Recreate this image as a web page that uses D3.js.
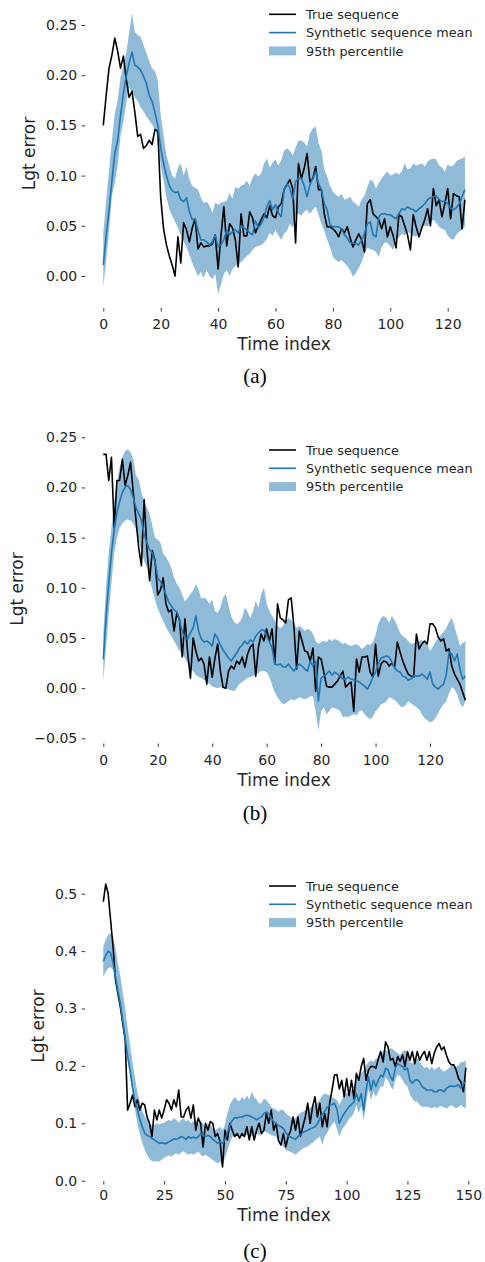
<!DOCTYPE html>
<html>
<head>
<meta charset="utf-8">
<script src="https://cdn.jsdelivr.net/npm/d3@7"></script>
<style>
  body { margin: 0; background: #fff; }
  svg { display: block; }
  text { font-family: "DejaVu Sans", sans-serif; }
  text.caption { font-family: "Liberation Serif", "Times New Roman", serif; }
</style>
</head>
<body>
<svg id="fig" width="485" height="1262"></svg>
<script>
// ---- data ----
var legendLabels = ['True sequence', 'Synthetic sequence mean', '95th percentile'];
var captions = ['(a)', '(b)', '(c)'];
var xTitle = 'Time index';
var yTitle = 'Lgt error';

// panel (a)
var aXTicks = [0, 20, 40, 60, 80, 100, 120];
var aYTicks = [0, 0.05, 0.10, 0.15, 0.20, 0.25];
var aTrue = [
  .150,.180,.207,.220,.237,.224,.207,.219,.196,.178,
  .184,.163,.139,.141,.127,.130,.135,.131,.146,.144,
  .078,.047,.031,.020,.011,.000,.039,.013,.053,.046,
  .034,.048,.057,.027,.033,.029,.030,.030,.032,.041,
  .007,.040,.069,.030,.052,.048,.036,.009,.062,.040,
  .040,.064,.058,.043,.050,.056,.062,.058,.070,.060,
  .058,.069,.072,.086,.091,.096,.087,.033,.112,.097,
  .107,.122,.094,.097,.109,.086,.086,.062,.049,.049,
  .047,.044,.039,.047,.043,.049,.038,.029,.036,.042,
  .036,.024,.072,.076,.062,.059,.056,.047,.057,.039,
  .049,.040,.028,.061,.059,.050,.041,.026,.061,.049,
  .039,.048,.056,.067,.050,.087,.070,.076,.059,.072,
  .087,.057,.082,.080,.079,.047,.076];
var aMean = [
  .011,.040,.065,.095,.122,.135,.160,.182,.199,.212,
  .223,.210,.208,.205,.199,.192,.180,.174,.163,.150,
  .128,.112,.100,.090,.085,.083,.084,.076,.074,.078,
  .064,.056,.057,.045,.036,.036,.034,.031,.034,.041,
  .029,.031,.036,.046,.041,.044,.046,.043,.050,.048,
  .046,.043,.041,.055,.048,.052,.058,.069,.075,.066,
  .071,.063,.059,.086,.092,.088,.076,.094,.097,.097,
  .090,.079,.091,.097,.104,.092,.086,.072,.066,.051,
  .049,.049,.049,.047,.041,.038,.033,.033,.032,.031,
  .036,.042,.052,.054,.041,.039,.059,.062,.062,.061,
  .061,.059,.057,.062,.067,.066,.069,.067,.066,.064,
  .067,.069,.072,.076,.078,.079,.080,.076,.074,.075,
  .072,.068,.066,.068,.072,.079,.086];
var aHigh = [
  .043,.075,.105,.135,.162,.175,.198,.210,.222,.242,
  .262,.243,.240,.238,.230,.222,.214,.207,.204,.195,
  .160,.140,.120,.110,.100,.097,.108,.112,.100,.109,
  .096,.090,.088,.086,.078,.073,.074,.070,.063,.073,
  .071,.073,.074,.075,.083,.077,.089,.087,.090,.091,
  .095,.090,.098,.102,.099,.102,.112,.117,.108,.113,
  .116,.110,.115,.125,.127,.125,.120,.128,.135,.135,
  .133,.129,.142,.147,.149,.132,.125,.106,.099,.090,
  .084,.081,.079,.082,.076,.077,.079,.074,.072,.069,
  .076,.080,.089,.096,.094,.087,.093,.097,.101,.104,
  .100,.101,.103,.101,.104,.112,.106,.107,.112,.110,
  .111,.112,.109,.114,.116,.117,.116,.110,.108,.104,
  .111,.109,.110,.114,.116,.117,.119];
var aLow = [
  -.011,.015,.045,.080,.093,.110,.140,.154,.172,.188,
  .183,.178,.174,.168,.164,.159,.155,.151,.146,.138,
  .110,.095,.078,.067,.060,.054,.048,.040,.034,.029,
  .021,.013,.006,.000,.004,-.002,.006,.000,-.003,.002,
  -.018,-.008,.002,.006,.000,.007,.010,.012,.014,.017,
  .020,.022,.026,.029,.030,.031,.033,.037,.043,.040,
  .046,.040,.036,.042,.045,.052,.048,.059,.062,.060,
  .064,.066,.062,.066,.069,.061,.052,.045,.036,.029,
  .019,.016,.014,.016,.013,.010,.006,-.001,.003,.008,
  .014,.022,.028,.027,.026,.024,.019,.029,.033,.033,
  .030,.026,.036,.038,.042,.040,.044,.042,.040,.039,
  .043,.049,.050,.049,.053,.056,.053,.049,.047,.046,
  .040,.037,.036,.041,.044,.046,.049];

// panel (b)
var bXTicks = [0, 20, 40, 60, 80, 100, 120];
var bYTicks = [-0.05, 0, 0.05, 0.10, 0.15, 0.20, 0.25];
var bTrue = [
  .233,.233,.207,.230,.160,.207,.207,.228,.202,.212,
  .225,.195,.168,.140,.122,.188,.140,.107,.137,.127,
  .093,.098,.110,.084,.076,.078,.057,.075,.068,.031,
  .069,.035,.010,.050,.037,.027,.030,.024,.004,.031,
  .011,.030,.044,.017,.001,.000,.017,.022,.019,.027,
  .024,.031,.021,.034,.041,.044,.012,.041,.054,.047,
  .059,.047,.059,.024,.084,.070,.068,.065,.088,.090,
  .062,.019,.057,.047,.037,.036,.027,.040,-.003,.031,
  .029,.016,.002,.001,.001,.004,.007,.012,.017,.001,
  .004,.006,-.023,.029,.016,.031,.031,.032,.016,.011,
  .044,.012,.024,.027,.026,.022,.025,.021,.046,.036,
  .027,.020,.014,.012,.011,.054,.039,.044,.047,.044,
  .064,.064,.060,.051,.047,.049,.037,.039,.022,.014,
  .009,.004,-.004,-.012];
var bMean = [
  .029,.070,.105,.135,.158,.175,.186,.195,.200,.202,
  .198,.190,.180,.174,.167,.153,.145,.138,.135,.126,
  .110,.106,.100,.093,.086,.082,.078,.076,.068,.056,
  .050,.049,.055,.060,.072,.057,.049,.046,.047,.045,
  .042,.054,.050,.043,.038,.034,.030,.027,.031,.035,
  .040,.043,.047,.044,.048,.046,.052,.055,.058,.058,
  .052,.046,.040,.024,.023,.024,.021,.021,.024,.020,
  .017,.021,.024,.022,.019,.017,.027,.022,.027,-.013,
  .010,.012,.014,.017,.013,.016,.014,.012,.009,.009,
  .011,.009,.008,.007,.006,.004,.002,-.001,.004,.011,
  .016,.024,.030,.031,.032,.031,.026,.020,.017,.016,
  .012,.011,.008,.009,.012,.012,.012,.014,.012,.009,
  .016,.004,.001,-.001,.002,.004,.014,.036,.034,.027,
  .034,.019,.009,.012];
var bHigh = [
  .054,.100,.135,.160,.185,.205,.220,.230,.236,.238,
  .235,.228,.212,.208,.195,.186,.180,.174,.162,.150,
  .148,.145,.134,.131,.126,.120,.110,.104,.100,.093,
  .086,.090,.094,.097,.104,.098,.089,.090,.088,.084,
  .088,.077,.075,.080,.090,.094,.082,.072,.066,.064,
  .066,.070,.080,.076,.070,.077,.087,.080,.094,.100,
  .084,.077,.072,.068,.062,.060,.062,.067,.070,.068,
  .064,.060,.062,.060,.057,.059,.058,.054,.047,.044,
  .046,.047,.046,.049,.047,.049,.048,.046,.044,.045,
  .043,.042,.043,.044,.042,.039,.041,.044,.043,.046,
  .053,.064,.070,.072,.070,.065,.072,.068,.062,.055,
  .052,.050,.047,.044,.045,.046,.047,.048,.046,.044,
  .037,.041,.046,.050,.053,.056,.060,.066,.070,.061,
  .052,.042,.045,.047];
var bLow = [
  .007,.040,.075,.105,.135,.150,.160,.164,.167,.168,
  .167,.164,.158,.148,.136,.127,.120,.110,.098,.088,
  .079,.073,.067,.061,.056,.052,.047,.042,.037,.034,
  .030,.024,.020,.017,.013,.011,.010,.008,.007,.004,
  .002,.001,.000,.001,.000,.000,-.001,-.002,-.003,.000,
  .004,.006,.008,.010,.011,.012,.014,.015,.017,.017,
  .016,.011,.003,-.004,-.009,-.013,-.016,-.015,-.013,-.011,
  -.012,-.011,-.009,-.010,-.011,-.010,-.008,-.008,-.023,-.042,
  -.023,-.019,-.026,-.023,-.019,-.020,-.021,-.023,-.029,-.028,
  -.029,-.027,-.026,-.027,-.023,-.022,-.026,-.029,-.031,-.029,
  -.023,-.020,-.016,-.015,-.013,-.009,-.010,-.012,-.014,-.018,
  -.019,-.017,-.013,-.015,-.017,-.019,-.021,-.026,-.030,-.032,
  -.034,-.033,-.030,-.025,-.020,-.016,-.013,-.005,.001,-.001,
  -.006,-.015,-.019,-.013];

// panel (c)
var cXTicks = [0, 25, 50, 75, 100, 125, 150];
var cYTicks = [0, 0.1, 0.2, 0.3, 0.4, 0.5];
var cTrue = [
  .486,.517,.500,.454,.408,.350,.326,.303,.274,.245,
  .123,.135,.149,.129,.141,.123,.135,.132,.111,.100,
  .077,.123,.106,.123,.109,.123,.141,.135,.123,.141,
  .129,.158,.111,.111,.123,.129,.109,.132,.088,.109,
  .100,.059,.100,.088,.103,.100,.077,.082,.068,.024,
  .088,.071,.100,.088,.077,.082,.074,.082,.077,.094,
  .071,.094,.071,.088,.100,.082,.088,.117,.100,.123,
  .088,.100,.070,.062,.082,.059,.077,.088,.111,.088,
  .111,.077,.094,.111,.135,.100,.129,.146,.111,.135,
  .094,.117,.094,.135,.158,.184,.185,.160,.175,.146,
  .178,.148,.175,.143,.187,.175,.199,.213,.175,.193,
  .199,.199,.196,.212,.225,.207,.242,.233,.210,.213,
  .199,.216,.208,.219,.199,.225,.210,.225,.204,.225,
  .210,.219,.225,.210,.225,.204,.222,.233,.239,.228,
  .233,.219,.207,.202,.202,.193,.178,.172,.155,.197];
var cMean = [
  .382,.392,.400,.397,.380,.355,.331,.308,.278,.248,
  .217,.192,.163,.139,.124,.107,.094,.083,.079,.077,
  .074,.071,.068,.065,.066,.065,.065,.068,.070,.073,
  .072,.074,.077,.075,.072,.077,.074,.076,.074,.076,
  .082,.079,.077,.079,.077,.072,.069,.065,.068,.065,
  .072,.084,.096,.105,.110,.109,.111,.111,.113,.114,
  .113,.111,.109,.106,.109,.111,.117,.120,.117,.109,
  .103,.100,.096,.094,.091,.084,.078,.076,.074,.072,
  .077,.080,.084,.086,.088,.090,.092,.094,.099,.108,
  .116,.121,.128,.131,.133,.135,.125,.100,.110,.117,
  .123,.129,.133,.137,.152,.138,.152,.123,.158,.181,
  .158,.175,.164,.175,.184,.181,.196,.193,.181,.175,
  .196,.204,.201,.199,.193,.196,.175,.170,.175,.176,
  .172,.164,.161,.158,.158,.158,.155,.155,.158,.158,
  .155,.161,.164,.165,.164,.165,.167,.161,.168,.174];
var cHigh = [
  .408,.420,.428,.431,.425,.406,.378,.356,.328,.300,
  .266,.236,.207,.180,.155,.137,.122,.112,.106,.100,
  .096,.097,.100,.098,.100,.101,.104,.106,.104,.109,
  .106,.101,.106,.109,.103,.106,.100,.103,.106,.100,
  .103,.100,.094,.100,.097,.091,.088,.091,.094,.088,
  .098,.118,.132,.140,.146,.141,.138,.146,.141,.149,
  .141,.155,.146,.141,.135,.135,.143,.140,.135,.129,
  .126,.123,.120,.124,.123,.117,.114,.111,.106,.109,
  .115,.118,.120,.123,.125,.127,.129,.132,.136,.141,
  .149,.152,.150,.149,.146,.143,.141,.132,.141,.149,
  .153,.155,.158,.167,.175,.181,.187,.193,.201,.207,
  .210,.207,.213,.213,.220,.225,.228,.226,.231,.229,
  .225,.222,.219,.225,.228,.222,.207,.204,.210,.213,
  .207,.201,.196,.199,.193,.199,.193,.196,.199,.193,
  .190,.193,.196,.201,.204,.199,.201,.207,.207,.210];
var cLow = [
  .355,.364,.370,.372,.368,.346,.325,.298,.268,.240,
  .210,.182,.152,.124,.100,.082,.066,.054,.045,.038,
  .034,.034,.034,.033,.037,.040,.042,.044,.042,.045,
  .048,.045,.049,.051,.048,.045,.048,.045,.048,.051,
  .045,.042,.045,.042,.039,.036,.033,.030,.033,.027,
  .040,.053,.066,.076,.080,.077,.074,.080,.082,.079,
  .082,.077,.080,.082,.080,.082,.086,.085,.082,.080,
  .078,.077,.069,.065,.059,.053,.052,.050,.048,.045,
  .049,.053,.056,.058,.060,.063,.066,.070,.074,.077,
  .062,.077,.083,.092,.098,.103,.090,.077,.088,.095,
  .100,.108,.112,.118,.132,.118,.130,.104,.135,.160,
  .140,.155,.146,.155,.165,.163,.180,.175,.165,.158,
  .176,.185,.182,.175,.168,.164,.150,.143,.138,.138,
  .132,.129,.129,.129,.128,.126,.129,.126,.129,.130,
  .128,.126,.129,.132,.129,.126,.129,.132,.129,.126];

// ---- layout ----
var blue = '#1f77b4';
var ink = '#262626';
var svg = d3.select('#fig');

var panels = [
  { truth: aTrue, mean: aMean, low: aLow, high: aHigh, xTicks: aXTicks, yTicks: aYTicks, yFmt: '.2f', caption: captions[0],
    xDom: [0, 120], xRng: [103.3, 447.7], yDom: [0, 0.25], yRng: [276, 25],
    left: 85.2, bottom: 308, xLabY: 328.5, titleY: 349.5, yLabX: 35, yLabY: 153.5, capY: 383, legY: 14.3 },
  { truth: bTrue, mean: bMean, low: bLow, high: bHigh, xTicks: bXTicks, yTicks: bYTicks, yFmt: '.2f', caption: captions[1],
    xDom: [0, 120], xRng: [103.3, 430], yDom: [-0.05, 0.25], yRng: [738.3, 437.3],
    left: 85.2, bottom: 743.5, xLabY: 765, titleY: 786, yLabX: 22.5, yLabY: 589, capY: 820, legY: 450 },
  { truth: cTrue, mean: cMean, low: cLow, high: cHigh, xTicks: cXTicks, yTicks: cYTicks, yFmt: '.1f', caption: captions[2],
    xDom: [0, 150], xRng: [103.3, 468.3], yDom: [0, 0.5], yRng: [1180.7, 893.7],
    left: 85.2, bottom: 1181, xLabY: 1199.5, titleY: 1221, yLabX: 44, yLabY: 1026, capY: 1258, legY: 886 }
];

panels.forEach(function(p) {
  var g = svg.append('g');
  var x = d3.scaleLinear().domain(p.xDom).range(p.xRng);
  var y = d3.scaleLinear().domain(p.yDom).range(p.yRng);

  // percentile band
  var area = d3.area()
    .x(function(d, i) { return x(i); })
    .y0(function(d, i) { return y(p.low[i]); })
    .y1(function(d, i) { return y(p.high[i]); });
  g.append('path')
    .datum(p.mean)
    .attr('d', area)
    .attr('fill', blue)
    .attr('fill-opacity', 0.5);

  var line = d3.line()
    .x(function(d, i) { return x(i); })
    .y(function(d) { return y(d); });

  g.append('path')
    .datum(p.truth)
    .attr('d', line)
    .attr('fill', 'none')
    .attr('stroke', '#000')
    .attr('stroke-width', 1.6)
    .attr('stroke-linejoin', 'round');

  g.append('path')
    .datum(p.mean)
    .attr('d', line)
    .attr('fill', 'none')
    .attr('stroke', blue)
    .attr('stroke-width', 1.6)
    .attr('stroke-linejoin', 'round');

  // axes, no spines
  var yAxis = g.append('g')
    .attr('transform', 'translate(' + p.left + ',0)')
    .style('color', ink)
    .call(d3.axisLeft(y).tickValues(p.yTicks).tickFormat(d3.format(p.yFmt)).tickSize(3.5).tickPadding(4.5));
  yAxis.select('.domain').remove();
  yAxis.selectAll('text').attr('font-size', 14);
  yAxis.selectAll('line').attr('stroke-width', 0.9);

  var xAxis = g.append('g')
    .attr('transform', 'translate(0,' + p.bottom + ')')
    .style('color', ink)
    .call(d3.axisBottom(x).tickValues(p.xTicks).tickFormat(d3.format('d')).tickSize(3.5));
  xAxis.select('.domain').remove();
  xAxis.selectAll('text')
    .attr('font-size', 14)
    .attr('dy', null)
    .attr('y', p.xLabY - p.bottom);
  xAxis.selectAll('line').attr('stroke-width', 0.9);

  g.append('text')
    .attr('x', (p.left + 483) / 2)
    .attr('y', p.titleY)
    .attr('text-anchor', 'middle')
    .attr('font-size', 17)
    .attr('fill', ink)
    .text(xTitle);

  g.append('text')
    .attr('transform', 'translate(' + p.yLabX + ',' + p.yLabY + ') rotate(-90)')
    .attr('text-anchor', 'middle')
    .attr('font-size', 17)
    .attr('fill', ink)
    .text(yTitle);

  // legend
  var leg = g.append('g');
  legendLabels.forEach(function(lab, k) {
    var ly = p.legY + k * 18.3;
    if (k < 2) {
      leg.append('line')
        .attr('x1', 269).attr('x2', 296)
        .attr('y1', ly).attr('y2', ly)
        .attr('stroke', k === 0 ? '#000' : blue)
        .attr('stroke-width', 1.6);
    } else {
      leg.append('rect')
        .attr('x', 269).attr('y', ly - 4.5)
        .attr('width', 27).attr('height', 9)
        .attr('fill', blue).attr('fill-opacity', 0.5);
    }
    leg.append('text')
      .attr('x', 306)
      .attr('y', ly + 4.6)
      .attr('font-size', 12.8)
      .attr('fill', ink)
      .text(lab);
  });

  g.append('text')
    .attr('class', 'caption')
    .attr('x', 255)
    .attr('y', p.capY)
    .attr('text-anchor', 'middle')
    .attr('font-size', 21)
    .attr('fill', '#000')
    .text(p.caption);
});
</script>
</body>
</html>
